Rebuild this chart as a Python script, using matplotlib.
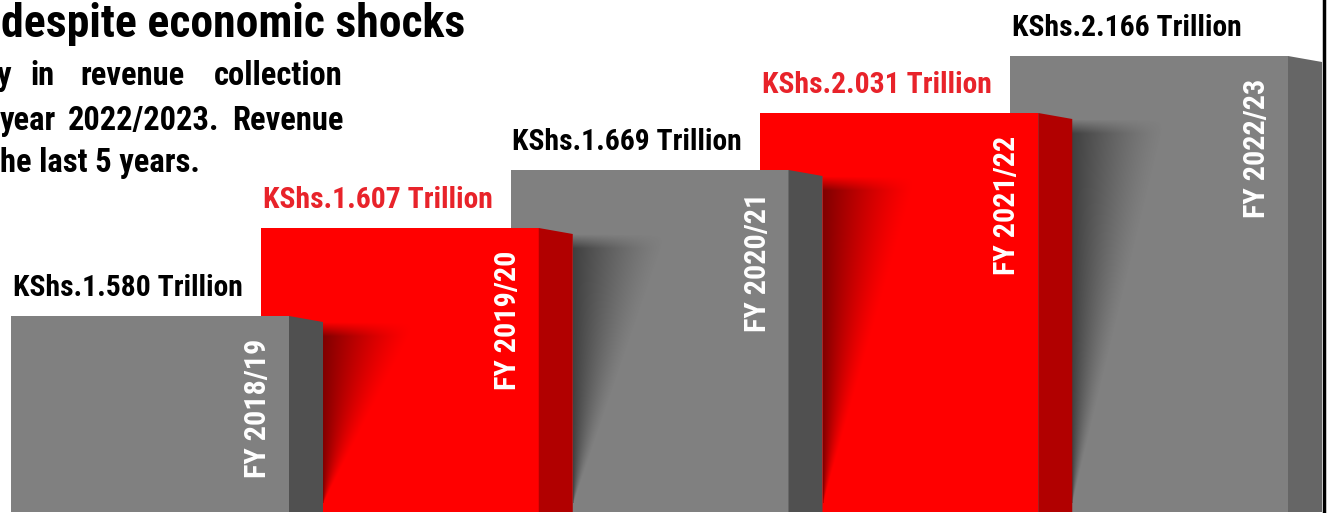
import numpy as np
import matplotlib
matplotlib.use("Agg")
import matplotlib.pyplot as plt
from matplotlib import font_manager

# data
years = ["FY 2018/19", "FY 2019/20", "FY 2020/21", "FY 2021/22", "FY 2022/23"]
values = [1.580, 1.607, 1.669, 2.031, 2.166]  # KShs trillion
bar_heights = [196, 284, 342, 399, 456]  # drawn heights (stepped, not to scale)

title_text = "despite economic shocks"
para_line1 = ["y", "in", "revenue", "collection"]
para_line2 = ["year", "2022/2023.", "Revenue"]
para_line3 = "he last 5 years."

installed = {f.name for f in font_manager.fontManager.ttflist}
font = "Roboto"
for cand in ["Roboto Condensed", "Liberation Sans Narrow", "Archivo Narrow", "PT Sans Narrow"]:
    if cand in installed:
        font = cand
        break

RED = "#ff0000"
RED_SIDE = "#b10000"
GRAY = "#808080"
GRAY_SIDES = ["#505050", "#505050", "#666666"]
LABEL_RED = "#e8232a"

W, H = 1332, 513
fig = plt.figure(figsize=(W / 100, H / 100), dpi=100)
ax = fig.add_axes([0, 0, 1, 1])
ax.set_xlim(0, W)
ax.set_ylim(0, H)
ax.axis("off")
renderer = fig.canvas.get_renderer()


def fit_size(s, width_px, size=20):
    # font size that makes s about width_px wide
    t = fig.text(0, 0, s, fontsize=size, fontweight="bold", family=font)
    w = t.get_window_extent(renderer).width
    t.remove()
    return size * width_px / w


label_size = fit_size("KShs.1.580 Trillion", 230)
year_size = fit_size("FY 2018/19", 139)
title_size = fit_size(title_text, 462)
para_size = fit_size(para_line3, 200)

base = 1
front_w = 278
side_w = 34
side_drop = 6
step = 249.75
lefts = [11 + i * step for i in range(len(values))]

fronts = []
for i, (left, h) in enumerate(zip(lefts, bar_heights)):
    z = 10 - 2 * i
    red = i % 2 == 1
    front = ax.bar(left, h, width=front_w, bottom=base, align="edge",
                   color=RED if red else GRAY, zorder=z)[0]
    fronts.append(front)
    right = left + front_w
    top = base + h
    side_col = RED_SIDE if red else GRAY_SIDES[i // 2]
    ax.fill([right, right, right + side_w, right + side_w],
            [base, top, top - side_drop, base], color=side_col, lw=0, zorder=z)

    # value label above the bar
    ax.text(left + 2, top + 20, f"KShs.{values[i]:.3f} Trillion",
            color=LABEL_RED if red else "black", fontsize=label_size, fontweight="bold",
            family=font, ha="left", va="baseline", zorder=30)
    # year label inside the bar
    ax.text(right - 31, top - 23, years[i], rotation=90, rotation_mode="anchor",
            ha="right", va="center", color="white", fontsize=year_size,
            fontweight="bold", family=font, zorder=30)

# soft shadow cast by each bar onto the next one
for i in range(len(values) - 1):
    xs = lefts[i] + front_w + side_w
    ys = base + bar_heights[i] - side_drop
    sw, sh = 120, ys - 10
    gx = np.linspace(0, sw, 240)
    gy = np.linspace(0, sh, 400)
    dx, dy = np.meshgrid(gx, gy)
    w = 95 * np.clip(1 - dy / sh, 0, 1) + 1e-6
    alpha = 0.5 * np.clip(1 - dx / w, 0, 1) ** 1.3
    alpha *= np.clip(dy / 14, 0, 1)
    rgba = np.zeros(dx.shape + (4,))
    rgba[..., 3] = alpha
    im = ax.imshow(rgba, extent=(xs, xs + sw, ys - sh, ys), origin="upper",
                   interpolation="bilinear", aspect="auto", zorder=10 - 2 * (i + 1) + 0.5)
    im.set_clip_path(fronts[i + 1])

ax.set_xlim(0, W)
ax.set_ylim(0, H)

# frame line on the right
ax.plot([1323.5, 1323.5], [0, H], color="black", lw=2.5, zorder=40)

# heading and paragraph fragments
ax.text(1, 476, title_text, fontsize=title_size, fontweight="bold", family=font,
        ha="left", va="baseline", color="black")
for word, x in zip(para_line1, [-3, 30, 80, 214]):
    ax.text(x, 428, word, fontsize=para_size, fontweight="bold", family=font,
            ha="left", va="baseline", color="black")
for word, x in zip(para_line2, [0, 68, 232]):
    ax.text(x, 383, word, fontsize=para_size, fontweight="bold", family=font,
            ha="left", va="baseline", color="black")
ax.text(0, 341, para_line3, fontsize=para_size, fontweight="bold", family=font,
        ha="left", va="baseline", color="black")

fig.savefig("out.png", dpi=100, facecolor="white")
